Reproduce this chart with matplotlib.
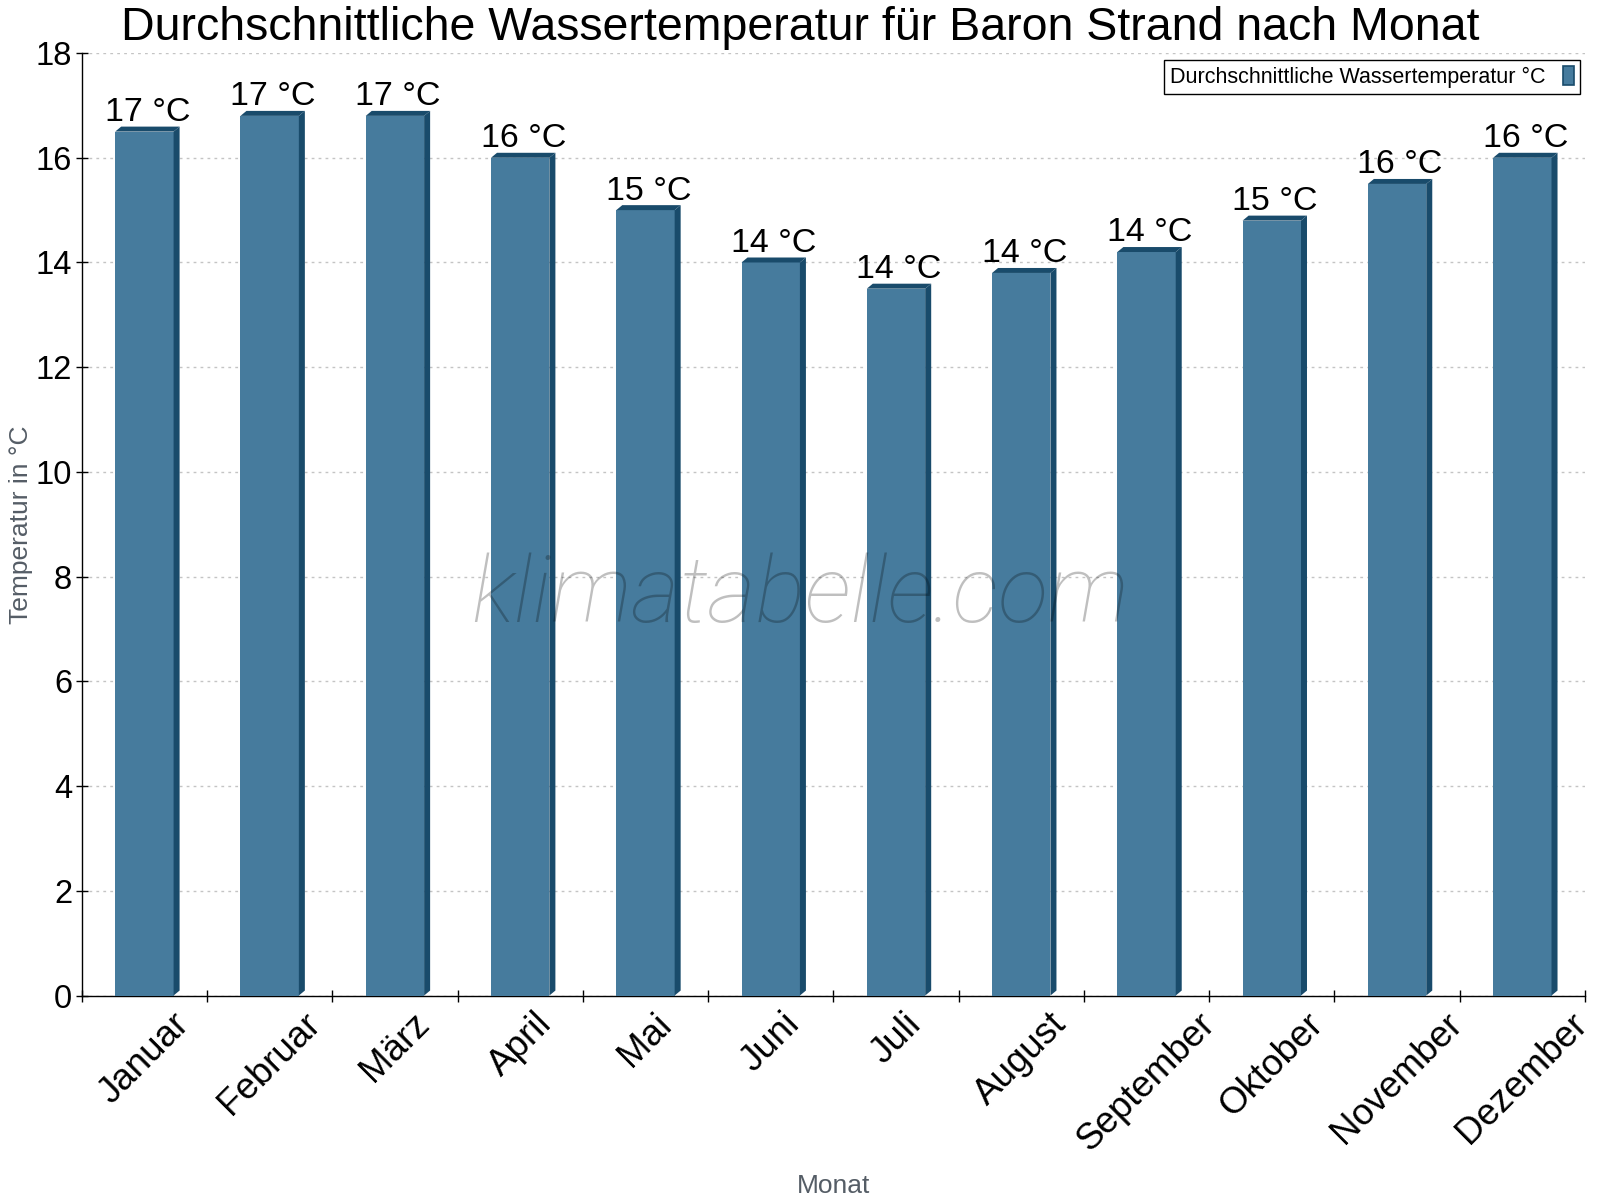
import matplotlib
matplotlib.use("Agg")
import matplotlib.pyplot as plt
from matplotlib.patches import Polygon, Patch

plt.rcParams["font.family"] = ["Liberation Sans", "DejaVu Sans"]

months = ["Januar", "Februar", "März", "April", "Mai", "Juni", "Juli",
          "August", "September", "Oktober", "November", "Dezember"]
water_temp = [16.5, 16.8, 16.8, 16.0, 15.0, 14.0, 13.5, 13.8, 14.2, 14.8, 15.5, 16.0]
y_ticks = [0, 2, 4, 6, 8, 10, 12, 14, 16, 18]

title = "Durchschnittliche Wassertemperatur für Baron Strand nach Monat"
series_name = "Durchschnittliche Wassertemperatur °C"

front_color = "#467b9d"
dark_color = "#194b6b"
bar_width = 0.466
depth_x = 0.048   # 3d depth in category units
depth_y = 0.095   # 3d depth in temperature units

fig = plt.figure(figsize=(16, 12), dpi=100)
ax = fig.add_axes([0.0511, 0.1704, 0.9395, 0.7854])

xs = list(range(len(months)))
ax.bar(xs, water_temp, width=bar_width, color=front_color, zorder=3)

# fake 3d: top face and right side of every bar
for x, v in zip(xs, water_temp):
    xl = x - bar_width / 2
    xr = x + bar_width / 2
    top = Polygon([(xl, v), (xl + depth_x, v + depth_y), (xr + depth_x, v + depth_y), (xr, v)],
                  closed=True, facecolor=dark_color, edgecolor="none", zorder=3)
    side = Polygon([(xr, 0), (xr + depth_x, depth_y), (xr + depth_x, v + depth_y), (xr, v)],
                   closed=True, facecolor=dark_color, edgecolor="none", zorder=3)
    ax.add_patch(top)
    ax.add_patch(side)
    ax.annotate("%d °C" % int(v + 0.5), (x + depth_x / 2, v + depth_y),
                xytext=(0, 4), textcoords="offset points",
                ha="center", va="baseline", fontsize=24.5, zorder=5)

ax.set_xlim(-0.5, len(months) - 0.5)
ax.set_ylim(0, 18)
ax.set_yticks(y_ticks)
ax.tick_params(axis="y", direction="inout", length=8, width=1, labelsize=23.5, pad=3)
ax.yaxis.grid(True, linestyle=(0, (2, 3)), color="#c4c4c4", linewidth=1, zorder=0)
ax.set_axisbelow(True)

# ticks on category borders, labels in the middle
ax.set_xticks([i - 0.5 for i in range(len(months) + 1)])
ax.set_xticklabels([])
ax.set_xticks(xs, minor=True)
ax.set_xticklabels(months, minor=True, rotation=45, ha="center", va="top", fontsize=26.5)
ax.tick_params(axis="x", which="major", direction="inout", length=8, width=1)
ax.tick_params(axis="x", which="minor", length=0, pad=8)

for s in ["top", "right"]:
    ax.spines[s].set_visible(False)
for s in ["left", "bottom"]:
    ax.spines[s].set_linewidth(1)
    ax.spines[s].set_color("black")

handle = Patch(facecolor=front_color, edgecolor=dark_color, linewidth=1.2)
leg = ax.legend([handle], [series_name], loc="upper right", bbox_to_anchor=(0.997, 0.993),
                borderaxespad=0, fontsize=15.5, markerfirst=False, handlelength=0.55,
                handleheight=1.0, handletextpad=0.8, borderpad=0.28, fancybox=False,
                framealpha=1, edgecolor="black")
leg.get_frame().set_linewidth(1)
leg.set_zorder(6)

fig.text(0.5, 1 - 40 / 1200, title, ha="center", va="baseline", fontsize=33.5)
fig.text(21 / 1600, 0.1704 + 0.7854 / 2, "Temperatur in °C", rotation=90,
         ha="center", va="center", fontsize=19, color="#555d66")
fig.text(834 / 1600, 1 - 1193 / 1200, "Monat", ha="center", va="baseline",
         fontsize=19, color="#555d66")

# watermark
fig.text(0.5, 0.5025, "klimatabelle.com", ha="center", va="center",
         fontsize=67, family="Roboto", fontweight="light", style="italic",
         color="black", alpha=0.25, zorder=7)

fig.savefig("out.png", dpi=100)
